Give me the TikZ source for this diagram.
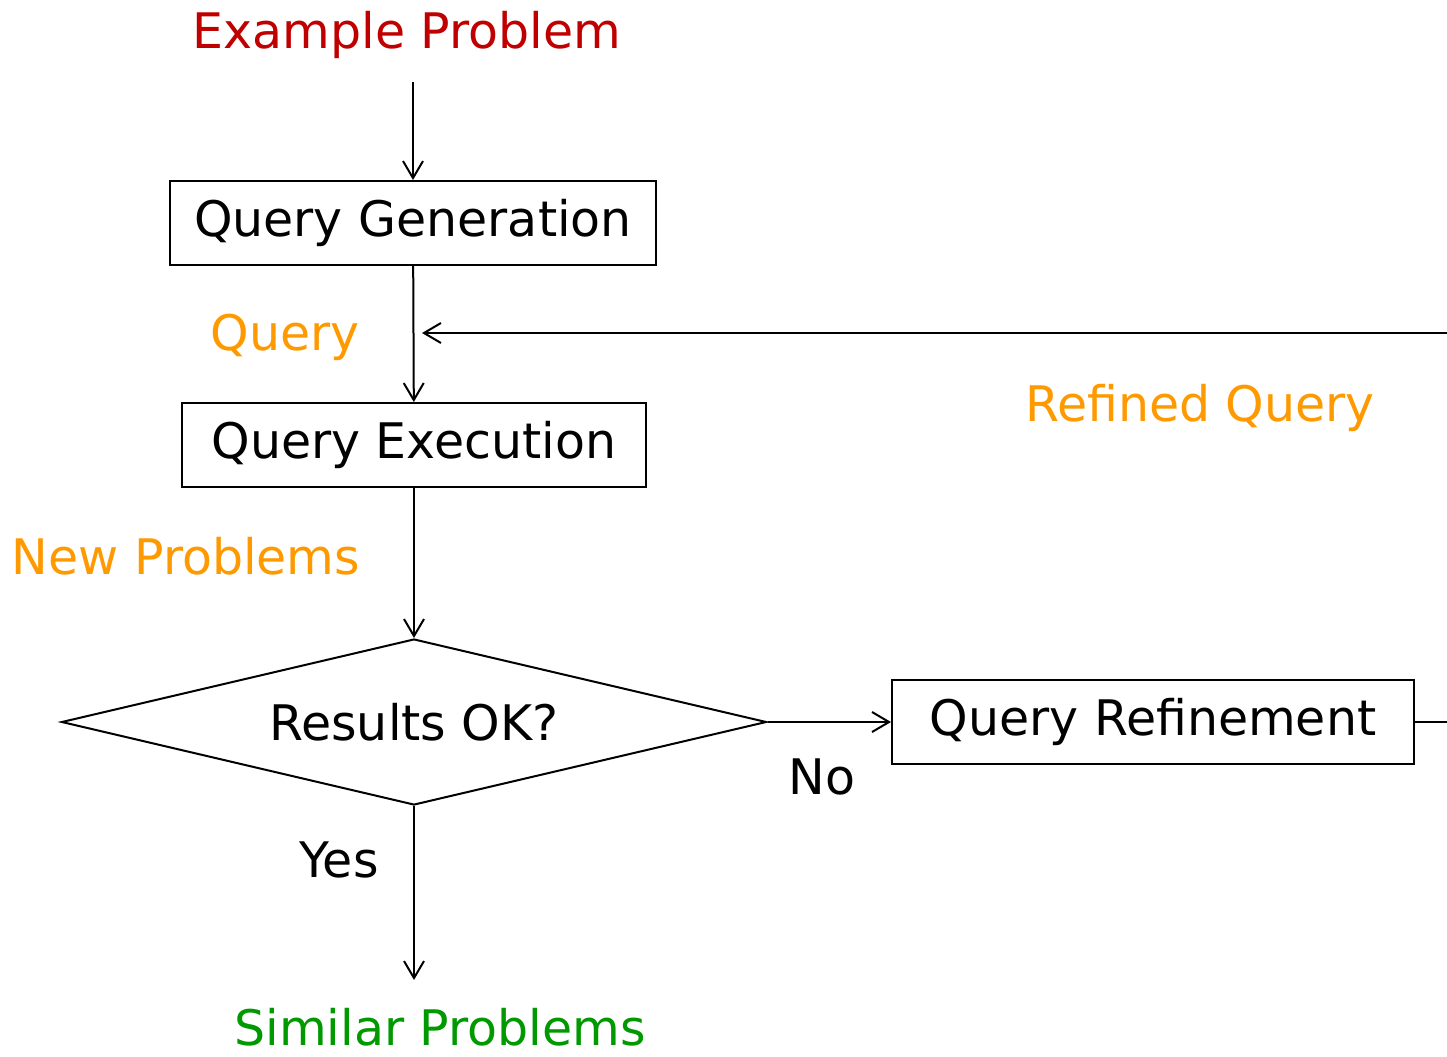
\documentclass[tikz,border=0pt]{standalone}
\usepackage{fontspec}
\setmainfont{DejaVu Sans}
\usetikzlibrary{shapes.geometric,arrows.meta}
\definecolor{exred}{RGB}{192,0,0}
\definecolor{qorange}{RGB}{255,153,0}
\definecolor{simgreen}{RGB}{0,153,0}
\tikzset{
  stage/.style={draw,line width=1pt,minimum height=42pt,inner sep=0pt},
  check/.style={draw,diamond,line width=1pt,aspect=4.25,minimum width=352.5pt,minimum height=83pt,inner sep=0pt},
  flow/.style={line width=1pt,-{Straight Barb[length=8.5pt,width=10pt,line width=1pt]}},
  txt/.style={font=\fontsize{24.5}{28}\selectfont}
}
\begin{document}
\begin{tikzpicture}[x=0.5pt,y=-0.5pt,every node/.style={txt}]
  \useasboundingbox (0,0) rectangle (1447,1056);
  \node[text=exred] (example) at (407,35) {Example Problem};
  \node[stage,minimum width=243pt] (gen) at (413,223) {Query Generation};
  \node[stage,minimum width=232pt] (exec) at (414,445) {Query Execution};
  \node[check] (ok) at (414,722) {Results OK?};
  \node[stage,minimum width=261pt] (refine) at (1153,722) {Query Refinement};
  \node[text=simgreen] (similar) at (440,1027) {Similar Problems};
  \node[text=qorange] (query) at (285,337) {Query};
  \node[text=qorange] (refined) at (1200,408) {Refined Query};
  \node[text=qorange] (new) at (186,556) {New Problems};
  \node (no) at (822,777) {No};
  \node (yes) at (339,860) {Yes};
  \coordinate (back) at (1460,333);
  \coordinate (join) at (422,333);
  \coordinate (out) at (1460,722);
  \coordinate (start) at (413,82);
  \coordinate (finish) at (414,980);
  \begin{scope}[flow]
    \draw (start) -- (gen);
    \draw (gen) -- (exec);
    \draw (exec) -- (ok);
    \draw (ok) -- (refine);
    \draw (ok) -- (finish);
    \draw (back) -- (join);
  \end{scope}
  \draw[line width=1pt] (refine) -- (out);
\end{tikzpicture}
\end{document}
